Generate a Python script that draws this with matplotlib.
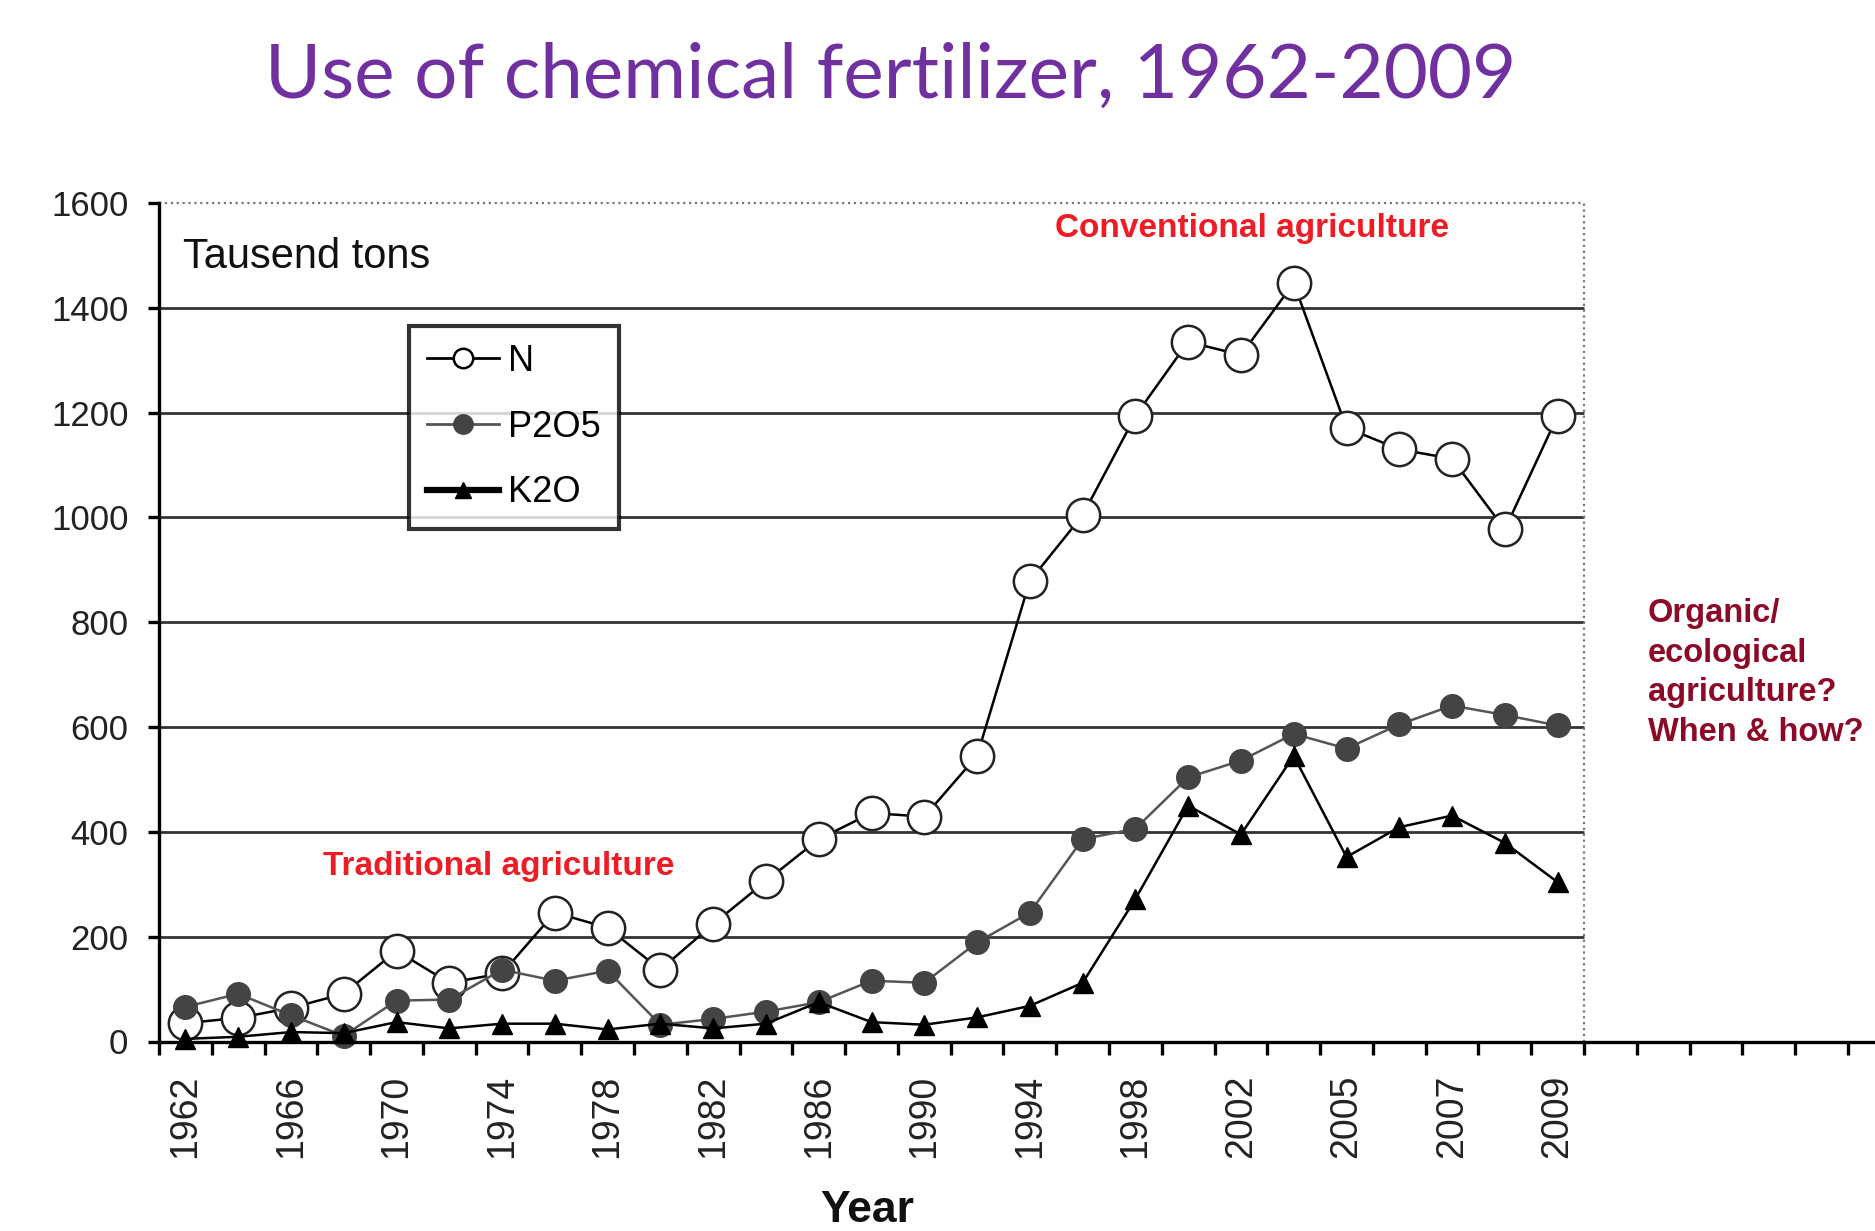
import numpy as np
import matplotlib
matplotlib.use("Agg")
import matplotlib.pyplot as plt
from matplotlib.lines import Line2D

# ---------------- data ----------------
years = ["1962", "1964", "1966", "1968", "1970", "1972", "1974", "1976", "1978",
         "1980", "1982", "1984", "1986", "1988", "1990", "1992", "1994", "1996",
         "1998", "2000", "2002", "2004", "2005", "2006", "2007", "2008", "2009"]
n_vals = [35, 45, 64, 91, 173, 112, 130, 246, 217, 137, 224, 306, 386, 436, 429,
          545, 879, 1004, 1194, 1335, 1310, 1447, 1171, 1130, 1112, 977, 1194]
p2o5_vals = [66, 91, 50, 11, 78, 80, 137, 116, 135, 32, 43, 57, 75, 116, 112,
             189, 246, 386, 406, 504, 536, 587, 559, 605, 641, 623, 603]
k2o_vals = [5, 9, 18, 16, 37, 25, 34, 34, 23, 34, 25, 34, 75, 37, 32, 46, 68,
            112, 272, 450, 395, 545, 352, 409, 431, 379, 304]
yticks = [0, 200, 400, 600, 800, 1000, 1200, 1400, 1600]
labelled_years = ["1962", "1966", "1970", "1974", "1978", "1982", "1986", "1990",
                  "1994", "1998", "2002", "2005", "2007", "2009"]

FONT = "Liberation Sans"
W, H = 1875, 1231
fig = plt.figure(figsize=(W / 100, H / 100), dpi=100)

# axes geometry (pixels)
ax_l, ax_r, ax_t, ax_b = 159, W, 203, 1041.5
ax = fig.add_axes([ax_l / W, 1 - ax_b / H, (ax_r - ax_l) / W, (ax_b - ax_t) / H])

x = np.arange(len(years))
n_cat = len(years)
frame_right = n_cat - 0.5
px_per_unit = (1584 - ax_l) / n_cat
xmax = frame_right + (W - 1584) / px_per_unit
ax.set_xlim(-0.5, xmax)
ax.set_ylim(0, 1600)

# grid lines & frame inside
for yv in yticks[1:-1]:
    ax.hlines(yv, -0.5, frame_right, color="#333333", lw=2.0, zorder=1)
ax.hlines(1600, -0.5, frame_right, color="#777777", lw=1.6, linestyles=":", zorder=1, clip_on=False)
ax.vlines(frame_right, 0, 1600, color="#777777", lw=1.6, linestyles=":", zorder=1)

# series
ax.plot(x, n_vals, color="black", lw=1.8, marker="o", ms=24, mfc="white",
        mec="#222222", mew=1.8, zorder=3, clip_on=False)
ax.plot(x, p2o5_vals, color="#555555", lw=1.8, marker="o", ms=17, mfc="#444444",
        mec="#444444", zorder=4, clip_on=False)
ax.plot(x, k2o_vals, color="black", lw=1.8, marker="^", ms=15, mfc="black",
        mec="black", zorder=5, clip_on=False)

# spines
for s in ["top", "right"]:
    ax.spines[s].set_visible(False)
ax.spines["left"].set_linewidth(2.4)
ax.spines["bottom"].set_linewidth(2.4)
ax.spines["left"].set_zorder(6)
ax.spines["bottom"].set_zorder(6)

# ticks
ax.set_yticks(yticks)
ax.set_yticklabels([str(v) for v in yticks], fontsize=25, family=FONT, color="#222222")
ax.tick_params(axis="y", direction="out", length=8, width=2.4, pad=14)

ax.set_xticks(np.arange(-0.5, xmax, 1.0), minor=True)
ax.tick_params(axis="x", which="minor", direction="out", length=9, width=2.4)
major_pos = [years.index(y) for y in labelled_years]
ax.set_xticks(major_pos)
ax.set_xticklabels(labelled_years, rotation=90, fontsize=27, family=FONT, color="#222222")
ax.tick_params(axis="x", which="major", length=0, pad=24)

# legend
handles = [
    Line2D([], [], color="black", lw=2.0, marker="o", ms=14, mfc="white", mec="black", mew=1.8),
    Line2D([], [], color="#555555", lw=2.0, marker="o", ms=14, mfc="#444444", mec="#444444"),
    Line2D([], [], color="black", lw=4.5, marker="^", ms=12, mfc="black", mec="black"),
]
leg = ax.legend(handles, ["N", "P2O5", "K2O"], loc="upper left",
                bbox_to_anchor=((409 - ax_l) / (ax_r - ax_l), (ax_b - 326) / (ax_b - ax_t)),
                borderaxespad=0, frameon=True, fancybox=False, edgecolor="black",
                prop={"family": FONT, "size": 26}, handlelength=2.0, handletextpad=0.25,
                labelspacing=0.85, borderpad=0.5)
leg.get_frame().set_linewidth(3)
leg.set_zorder(10)

# texts
ax.text((183 - ax_l) / (ax_r - ax_l), (ax_b - 257) / (ax_b - ax_t), "Tausend tons",
        transform=ax.transAxes, fontsize=30, family=FONT, color="#111111",
        ha="left", va="center")
ax.text((1252 - ax_l) / (ax_r - ax_l), (ax_b - 228) / (ax_b - ax_t), "Conventional agriculture",
        transform=ax.transAxes, fontsize=24, family=FONT, fontweight="bold",
        color="#EE1C25", ha="center", va="center")
ax.text((499 - ax_l) / (ax_r - ax_l), (ax_b - 867) / (ax_b - ax_t), "Traditional agriculture",
        transform=ax.transAxes, fontsize=24, family=FONT, fontweight="bold",
        color="#EE1C25", ha="center", va="center")
fig.text(1648 / W, 1 - 673 / H, "Organic/\necological\nagriculture?\nWhen & how?",
         fontsize=23.5, family=FONT, fontweight="bold", color="#8C0A28",
         ha="left", va="center", linespacing=1.36)

fig.text(891 / W, 1 - 76 / H, "Use of chemical fertilizer, 1962-2009",
         fontsize=55, family="Lato", color="#7030A0", ha="center", va="center")
fig.text(867 / W, 1 - 1210 / H, "Year", fontsize=32, family=FONT, fontweight="bold",
         color="#111111", ha="center", va="center")

fig.savefig("out.png", dpi=100)
